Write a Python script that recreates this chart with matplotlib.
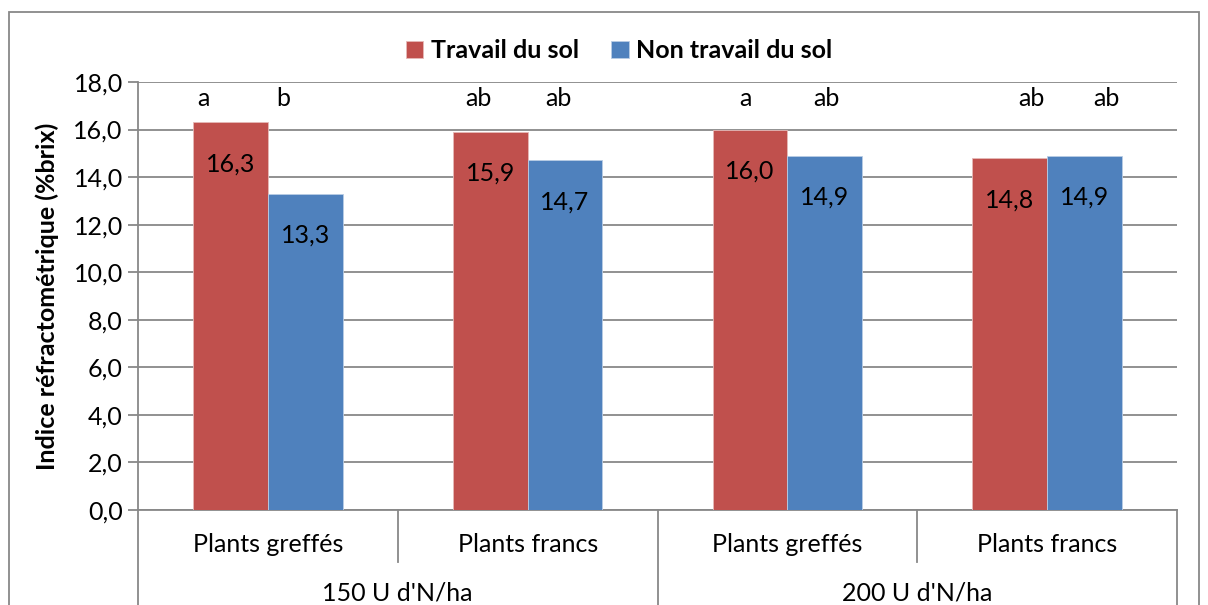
# Graphique : indice réfractométrique selon travail du sol

import matplotlib
matplotlib.use("Agg")
import matplotlib.pyplot as plt
import matplotlib.transforms as mtransforms
from matplotlib.patches import Rectangle
import numpy as np

# Donnees

plants = ["Plants greffés", "Plants francs", "Plants greffés", "Plants francs"]
doses = ["150 U d'N/ha", "200 U d'N/ha"]
series = ["Travail du sol", "Non travail du sol"]
travail = [16.3, 15.9, 16.0, 14.8]
non_travail = [13.3, 14.7, 14.9, 14.9]
lettres_travail = ["a", "ab", "a", "ab"]
lettres_non_travail = ["b", "ab", "ab", "ab"]
yticks = [0, 2, 4, 6, 8, 10, 12, 14, 16, 18]

# Style

plt.rcParams['font.family'] = ['Lato', 'DejaVu Sans']
rouge = "#C0504D"
bleu = "#4F81BD"
gris = "#888888"
fs = 18

W, H = 1208, 605
fig = plt.figure(figsize=(W / 100, H / 100), dpi=100)
ax = fig.add_axes([138 / W, 1 - 510 / H, (1177 - 138) / W, (510 - 82) / H])

x = np.arange(len(plants))
larg = 0.288
b1 = ax.bar(x - larg / 2, travail, larg, color=rouge, edgecolor="#E6B9B8", linewidth=0.6, zorder=3, label=series[0])
b2 = ax.bar(x + larg / 2, non_travail, larg, color=bleu, edgecolor="#B9CDE5", linewidth=0.6, zorder=3, label=series[1])

# etiquettes des valeurs
for xi, v in zip(x - larg / 2, travail):
    ax.text(xi, v - 1.75, "{:.1f}".format(v).replace(".", ","), ha="center", va="center", fontsize=fs, zorder=4)
for xi, v in zip(x + larg / 2, non_travail):
    ax.text(xi, v - 1.75, "{:.1f}".format(v).replace(".", ","), ha="center", va="center", fontsize=fs, zorder=4)

# lettres de significativite (decalage)
dec_rouge = [-0.25, -0.19, -0.16, -0.06]
dec_bleu = [0.06, 0.12, 0.15, 0.23]
for i in range(len(plants)):
    ax.text(x[i] + dec_rouge[i], 17.3, lettres_travail[i], ha="center", va="center", fontsize=fs)
    ax.text(x[i] + dec_bleu[i], 17.3, lettres_non_travail[i], ha="center", va="center", fontsize=fs)

ax.set_xlim(-0.5, 3.5)
ax.set_ylim(0, 18)
ax.set_yticks(yticks)
ax.set_yticklabels(["{:.1f}".format(t).replace(".", ",") for t in yticks], fontsize=fs)
ax.set_xticks([])
ax.grid(True, axis="y", color=gris, linewidth=1.3, zorder=0)
ax.tick_params(axis="y", length=7, width=1.3, color=gris, pad=4)
for s in ["top", "right"]:
    ax.spines[s].set_visible(False)
ax.spines["left"].set_color(gris)
ax.spines["left"].set_linewidth(1.3)
ax.spines["bottom"].set_color(gris)
ax.spines["bottom"].set_linewidth(1.3)

ax.set_ylabel("Indice réfractométrique (%brix)", fontsize=fs, fontweight="bold", labelpad=10)

# axe des categories a deux niveaux
tr = mtransforms.blended_transform_factory(ax.transData, fig.transFigure)
y0 = 1 - 510 / H
y1 = 1 - 562 / H
for xs in [0.5, 2.5]:
    ax.plot([xs, xs], [y0, y1], transform=tr, color=gris, lw=1.3, clip_on=False)
for xs in [-0.5, 1.5, 3.5]:
    ax.plot([xs, xs], [y0, 0], transform=tr, color=gris, lw=1.3, clip_on=False)
for i, p in enumerate(plants):
    ax.text(x[i], 1 - 545 / H, p, transform=tr, ha="center", va="center", fontsize=fs)
for j, d in enumerate(doses):
    ax.text(0.5 + 2 * j, 1 - 593 / H, d, transform=tr, ha="center", va="center", fontsize=fs)

# legende
ax.legend(loc="lower center", bbox_to_anchor=(0.463, 1.0), ncol=2, frameon=False,
          prop={"weight": "bold", "size": fs}, handlelength=0.7, handleheight=0.7,
          handletextpad=0.3, columnspacing=1.3, borderaxespad=0.4)

# cadre du graphique
fig.patches.append(Rectangle((9 / W, -0.05), (1199 - 9) / W, 1.05 - 12 / H, transform=fig.transFigure,
                             fill=False, edgecolor=gris, linewidth=1.3))

fig.savefig("out.png", dpi=100)
